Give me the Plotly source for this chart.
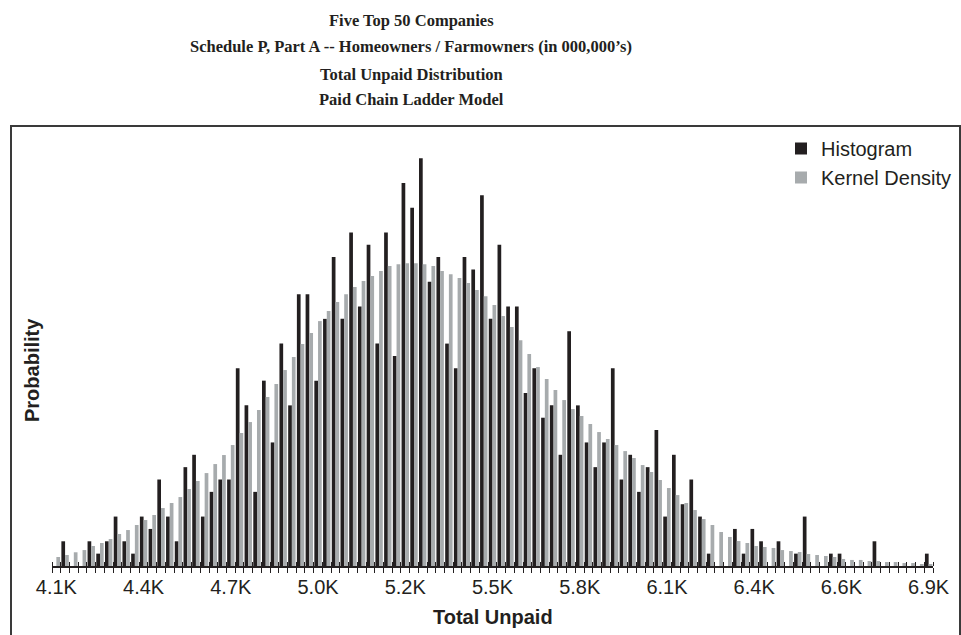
import plotly.graph_objects as go

# Histogram counts per bin (1,000 simulations) and kernel density (same units, per 1,000)
hist_counts = [0, 2, 0, 0, 2, 1, 2, 4, 2, 1,
               4, 3, 7, 4, 2, 8, 9, 4, 6, 7,
               7, 16, 13, 6, 15, 10, 18, 13, 22, 22,
               15, 20, 25, 20, 27, 21, 26, 18, 27, 17,
               31, 29, 33, 23, 25, 18, 16, 25, 24, 30,
               20, 26, 21, 21, 14, 16, 12, 13, 9, 19,
               13, 10, 8, 10, 16, 7, 9, 6, 8, 11,
               4, 9, 5, 7, 4, 1, 0, 0, 3, 1,
               3, 2, 0, 2, 0, 1, 4, 0, 0, 1,
               1, 0, 0, 0, 2, 0, 0, 0, 0, 0,
               1]
kde_per_1000 = [0.73, 0.89, 1.11, 1.29, 1.62, 1.86, 2.18, 2.59, 2.91, 3.32,
                3.72, 4.13, 4.69, 5.10, 5.58, 6.23, 6.88, 7.52, 8.25, 8.98,
                9.79, 10.76, 11.65, 12.62, 13.67, 14.72, 15.86, 16.91, 17.96, 18.85,
                19.82, 20.63, 21.36, 22.00, 22.57, 23.06, 23.46, 23.87, 24.27, 24.43,
                24.51, 24.51, 24.43, 24.27, 23.87, 23.62, 23.30, 22.90, 22.33, 21.84,
                21.12, 20.23, 19.34, 18.28, 17.15, 16.10, 15.13, 14.24, 13.43, 12.70,
                12.14, 11.49, 10.84, 10.28, 9.79, 9.30, 8.74, 8.17, 7.61, 6.96,
                6.31, 5.74, 5.10, 4.53, 3.80, 3.32, 2.75, 2.35, 2.02, 1.86,
                1.62, 1.54, 1.46, 1.29, 1.21, 1.13, 0.97, 0.89, 0.81, 0.73,
                0.57, 0.49, 0.49, 0.40, 0.40, 0.32, 0.32, 0.24, 0.24, 0.16,
                0.16]
tick_labels = ["4.1K", "4.4K", "4.7K", "5.0K", "5.2K", "5.5K", "5.8K",
               "6.1K", "6.4K", "6.6K", "6.9K"]
label_step = 10

n_bins = len(hist_counts)
bins = list(range(n_bins))
hist_prob = [c / 1000 for c in hist_counts]
kde_prob = [v / 1000 for v in kde_per_1000]
tick_pos = [i * label_step for i in range(len(tick_labels))]
boundaries = [i - 0.5 for i in range(n_bins + 1)]

DARK = "#231f20"
GRAY = "#a7abad"
SANS = "Liberation Sans, Arial, sans-serif"
SERIF = "Liberation Serif, Times New Roman, serif"

fig = go.Figure()
fig.add_trace(go.Bar(x=bins, y=hist_prob, name="Histogram",
                     marker=dict(color=DARK, line=dict(width=0))))
fig.add_trace(go.Bar(x=bins, y=kde_prob, name="Kernel Density",
                     marker=dict(color=GRAY, line=dict(width=0))))
fig.add_trace(go.Scatter(x=[], y=[], xaxis="x2", showlegend=False, hoverinfo="skip"))

# layout geometry (pixels)
W, H = 961, 635
L, R, T, B = 52, 28, 136, 69
pw, ph = W - L - R, H - T - B

def px_x(p):
    return (p - L) / pw

def px_y(p):
    return (H - B - p) / ph

fig.update_layout(
    width=W, height=H,
    margin=dict(l=L, r=R, t=T, b=B, autoexpand=False),
    paper_bgcolor="white", plot_bgcolor="white",
    barmode="group", bargap=0.15, bargroupgap=0,
    showlegend=True,
    legend=dict(x=px_x(781), y=px_y(129), xanchor="left", yanchor="top",
                font=dict(family=SANS, size=20, color=DARK),
                bgcolor="rgba(0,0,0,0)", tracegroupgap=0),
    xaxis=dict(range=[-0.5, n_bins - 0.5], tickmode="array", tickvals=tick_pos,
               ticktext=tick_labels, ticks="", showgrid=False, zeroline=False,
               showline=True, linecolor=DARK, linewidth=1.5, ticklabelstandoff=2,
               tickfont=dict(family=SANS, size=20, color=DARK),
               minor=dict(tickmode="array", tickvals=boundaries, ticks="outside",
                          ticklen=5, tickwidth=1.2, tickcolor=DARK, showgrid=False)),
    xaxis2=dict(range=[-0.5, n_bins - 0.5], overlaying="x", matches="x", anchor="y",
                showticklabels=False, ticks="", showgrid=False, zeroline=False,
                showline=False,
                minor=dict(tickmode="array", tickvals=boundaries, ticks="inside",
                           ticklen=4, tickwidth=1.2, tickcolor=DARK, showgrid=False)),
    yaxis=dict(range=[0, 0.0348], showticklabels=False, ticks="", showgrid=False,
               zeroline=False, showline=False),
    shapes=[dict(type="rect", xref="paper", yref="paper",
                 x0=px_x(11), x1=px_x(960), y0=px_y(700), y1=px_y(126),
                 line=dict(color="#3a3a3a", width=2), fillcolor="rgba(0,0,0,0)", layer="below")],
)

titles = ["Five Top 50 Companies",
          "Schedule P, Part A -- Homeowners / Farmowners (in 000,000\u2019s)",
          "Total Unpaid Distribution",
          "Paid Chain Ladder Model"]
title_y = [21, 47, 74, 99]
for t, yy in zip(titles, title_y):
    fig.add_annotation(text="<b>" + t + "</b>", xref="paper", yref="paper",
                       x=px_x(411), y=px_y(yy), xanchor="center", yanchor="middle",
                       showarrow=False, font=dict(family=SERIF, size=16.5, color=DARK))

fig.add_annotation(text="<b>Total Unpaid</b>", xref="paper", yref="paper",
                   x=px_x(493), y=px_y(617), xanchor="center", yanchor="middle",
                   showarrow=False, font=dict(family=SANS, size=20, color=DARK))
fig.add_annotation(text="<b>Probability</b>", xref="paper", yref="paper",
                   x=px_x(32), y=px_y(370), xanchor="center", yanchor="middle",
                   textangle=-90, showarrow=False,
                   font=dict(family=SANS, size=20, color=DARK))

fig.write_html("out.html")
